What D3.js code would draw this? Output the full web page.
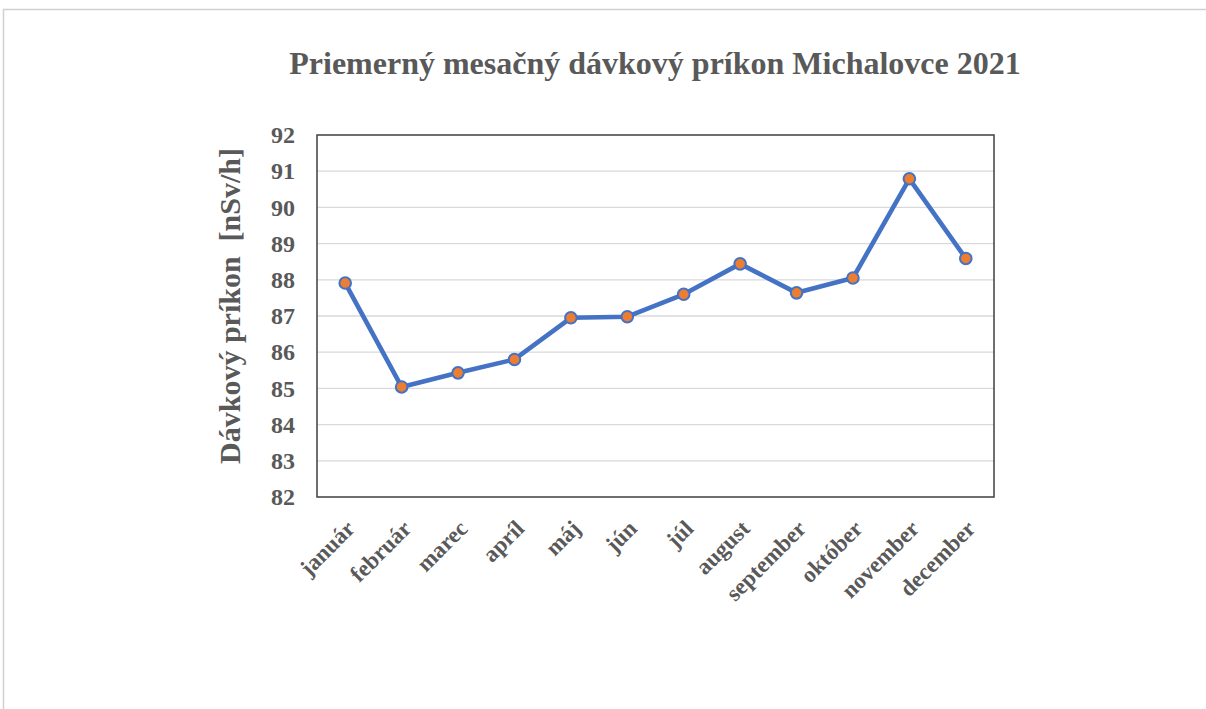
<!DOCTYPE html>
<html>
<head>
<meta charset="utf-8">
<script src="https://cdn.jsdelivr.net/npm/d3@7"></script>
<style>
  html, body { margin: 0; padding: 0; background: #fff; }
  svg { display: block; }
</style>
</head>
<body>
<svg id="chart" width="1206" height="709"></svg>
<script>
// Monthly averages of the ambient dose rate, Michalovce 2021
const months = ["január", "február", "marec", "apríl", "máj", "jún", "júl", "august", "september", "október", "november", "december"];
const doseRate = [87.91, 85.04, 85.43, 85.80, 86.95, 86.98, 87.60, 88.44, 87.64, 88.05, 90.79, 88.59];
const yTicks = [82, 83, 84, 85, 86, 87, 88, 89, 90, 91, 92];

const titleText = "Priemerný mesačný dávkový príkon Michalovce 2021";
const yTitleText = "Dávkový príkon  [nSv/h]";

const svg = d3.select("#chart");
const W = 1206, H = 709;
const plot = { left: 317, right: 994, top: 135, bottom: 497 };
const textColor = "#595959";
const font = "'Liberation Serif', 'Times New Roman', serif";

// outer frame
svg.append("path")
  .attr("d", `M${W},9.5 H3.5 V${H}`)
  .attr("fill", "none")
  .attr("stroke", "#d0d0d0")
  .attr("stroke-width", 1.5);

const x = d3.scaleBand().domain(months).range([plot.left, plot.right]);
const y = d3.scaleLinear().domain([82, 92]).range([plot.bottom, plot.top]);

// horizontal gridlines
svg.append("g")
  .selectAll("line")
  .data(yTicks.slice(1, -1))
  .join("line")
  .attr("x1", plot.left).attr("x2", plot.right)
  .attr("y1", d => y(d)).attr("y2", d => y(d))
  .attr("stroke", "#d9d9d9")
  .attr("stroke-width", 1.3);

// plot frame
svg.append("rect")
  .attr("x", plot.left).attr("y", plot.top)
  .attr("width", plot.right - plot.left)
  .attr("height", plot.bottom - plot.top)
  .attr("fill", "none")
  .attr("stroke", "#3f3f3f")
  .attr("stroke-width", 1.5);

// y axis labels
const yAxis = svg.append("g")
  .attr("transform", `translate(${plot.left - 22},0)`)
  .call(d3.axisLeft(y).tickValues(yTicks).tickSize(0).tickPadding(0).tickFormat(d3.format("d")));
yAxis.select(".domain").remove();
yAxis.selectAll("text")
  .attr("text-anchor", "end")
  .attr("fill", textColor)
  .style("font-family", font)
  .style("font-weight", "bold")
  .style("font-size", "24px");

// x axis labels, rotated
const xAxis = svg.append("g")
  .attr("transform", `translate(0,${plot.bottom})`)
  .call(d3.axisBottom(x).tickSize(0).tickPadding(0));
xAxis.select(".domain").remove();
xAxis.selectAll("text")
  .attr("text-anchor", "end")
  .attr("dy", "0")
  .attr("transform", "translate(11,33) rotate(-45)")
  .attr("fill", textColor)
  .style("font-family", font)
  .style("font-weight", "bold")
  .style("font-size", "23px");

// y axis title
svg.append("text")
  .attr("transform", `translate(240,306) rotate(-90)`)
  .attr("text-anchor", "middle")
  .attr("fill", textColor)
  .style("font-family", font)
  .style("font-weight", "bold")
  .style("font-size", "30px")
  .style("white-space", "pre")
  .text(yTitleText);

// chart title
svg.append("text")
  .attr("x", 655).attr("y", 74)
  .attr("text-anchor", "middle")
  .attr("fill", textColor)
  .style("font-family", font)
  .style("font-weight", "bold")
  .style("font-size", "32px")
  .text(titleText);

// series line
const cx = d => x(d) + x.bandwidth() / 2;
svg.append("path")
  .datum(months)
  .attr("d", d3.line().x(cx).y((d, i) => y(doseRate[i])))
  .attr("fill", "none")
  .attr("stroke", "#4472c4")
  .attr("stroke-width", 4.6)
  .attr("stroke-linejoin", "round");

// markers
svg.append("g")
  .selectAll("circle")
  .data(months)
  .join("circle")
  .attr("cx", cx)
  .attr("cy", (d, i) => y(doseRate[i]))
  .attr("r", 5.8)
  .attr("fill", "#ed7d31")
  .attr("stroke", "#4472c4")
  .attr("stroke-width", 2);
</script>
</body>
</html>
